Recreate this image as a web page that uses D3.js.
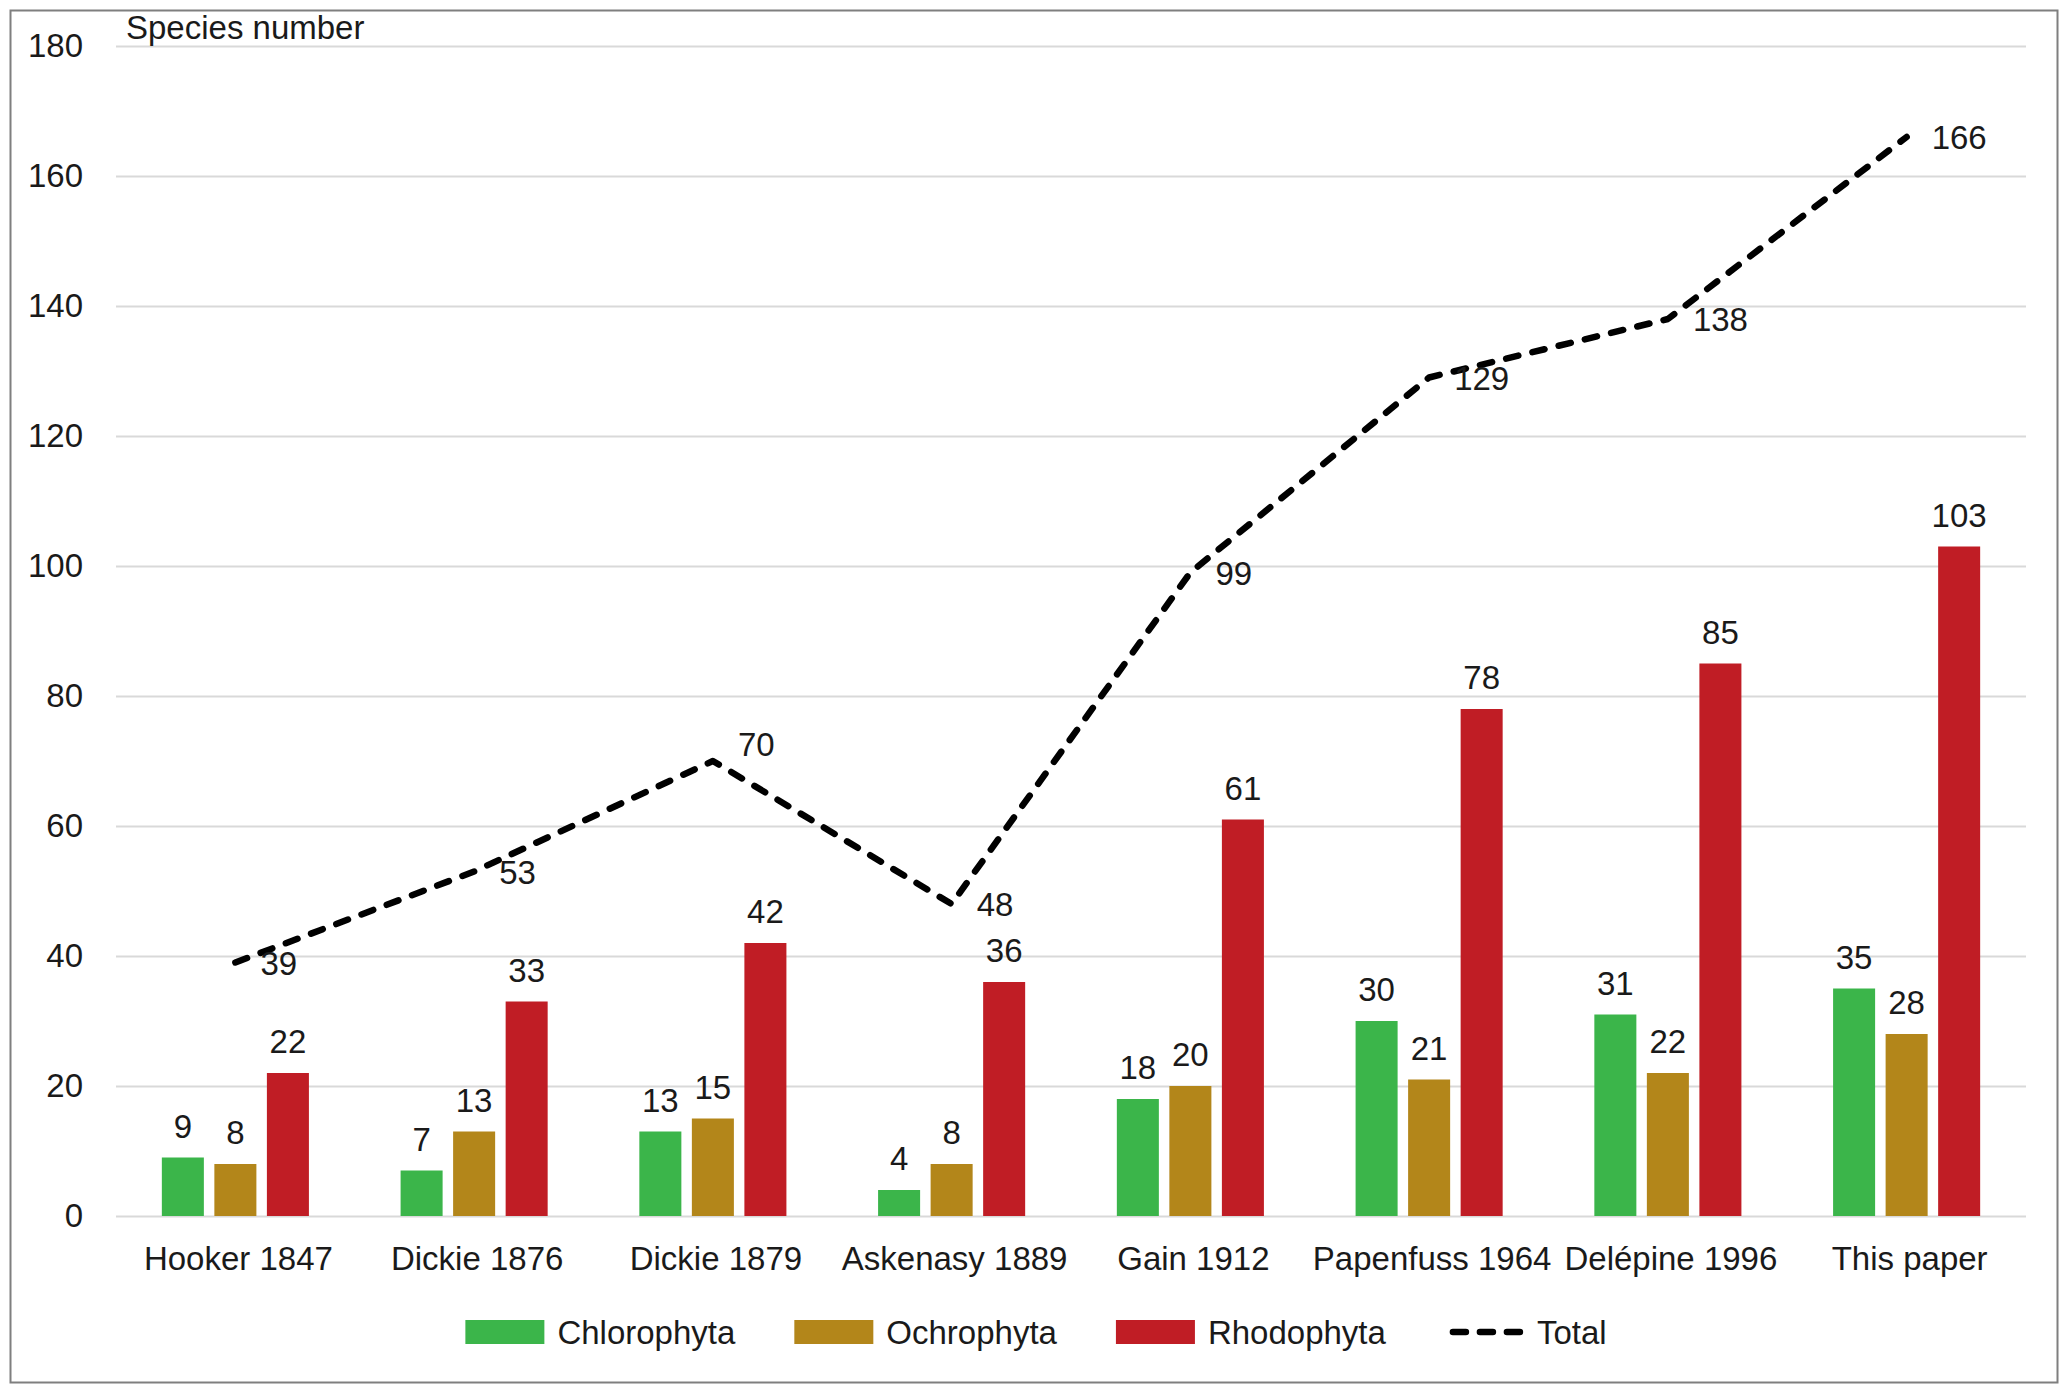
<!DOCTYPE html>
<html>
<head>
<meta charset="utf-8">
<script src="https://cdn.jsdelivr.net/npm/d3@7"></script>
<style>
  html, body { margin: 0; padding: 0; background: #fff; }
  svg { display: block; }
  text { font-family: "Liberation Sans", Arial, Helvetica, sans-serif; fill: #1a1a1a; }
</style>
</head>
<body>
<svg id="chart" width="2072" height="1393"></svg>
<script>
// ---- data ----
const categories = ["Hooker 1847", "Dickie 1876", "Dickie 1879", "Askenasy 1889", "Gain 1912", "Papenfuss 1964", "Delépine 1996", "This paper"];
const seriesNames = ["Chlorophyta", "Ochrophyta", "Rhodophyta"];
const chlorophyta = [9, 7, 13, 4, 18, 30, 31, 35];
const ochrophyta = [8, 13, 15, 8, 20, 21, 22, 28];
const rhodophyta = [22, 33, 42, 36, 61, 78, 85, 103];
const total = [39, 53, 70, 48, 99, 129, 138, 166];
const yTicks = [0, 20, 40, 60, 80, 100, 120, 140, 160, 180];
const yTitle = "Species number";
const totalName = "Total";

// ---- styles ----
const colors = { "Chlorophyta": "#3bb54a", "Ochrophyta": "#b3861a", "Rhodophyta": "#c01d25" };
const fontSize = 33;

const svg = d3.select("#chart");

// frame border
svg.append("rect").attr("x", 10.5).attr("y", 10.5).attr("width", 2047).attr("height", 1372)
  .attr("fill", "none").attr("stroke", "#7f7f7f").attr("stroke-width", 2);

const plot = { left: 116, right: 2026, top: 46, bottom: 1216 };

const y = d3.scaleLinear().domain([0, 180]).range([plot.bottom, plot.top]);
const x0 = d3.scaleBand().domain(categories).range([plot.left, plot.right])
  .paddingInner(0.384).paddingOuter(0.192);
const x1 = d3.scaleBand().domain(seriesNames).range([0, x0.bandwidth()]).paddingInner(0.2);

// gridlines
svg.append("g").selectAll("line").data(yTicks).join("line")
  .attr("x1", plot.left).attr("x2", plot.right)
  .attr("y1", d => Math.round(y(d)) + 0.5).attr("y2", d => Math.round(y(d)) + 0.5)
  .attr("stroke", "#d9d9d9").attr("stroke-width", 2);

// y axis labels
const yAxis = d3.axisLeft(y).tickValues(yTicks).tickSize(0).tickPadding(0);
const gy = svg.append("g").attr("transform", `translate(83,0)`).call(yAxis);
gy.select(".domain").remove();
gy.selectAll("text").style("font-size", fontSize + "px")
  .style("font-family", '"Liberation Sans", Arial, sans-serif').attr("fill", "#1a1a1a");

// y title
svg.append("text").attr("x", 126).attr("y", 39).style("font-size", fontSize + "px").text(yTitle);

// x axis labels
const xAxis = d3.axisBottom(x0).tickSize(0).tickPadding(0);
const gx = svg.append("g").attr("transform", `translate(3,1247)`).call(xAxis);
gx.select(".domain").remove();
gx.selectAll("text").style("font-size", fontSize + "px")
  .style("font-family", '"Liberation Sans", Arial, sans-serif').attr("fill", "#1a1a1a")
  .attr("dy", "0.71em");

// bars
const seriesData = { "Chlorophyta": chlorophyta, "Ochrophyta": ochrophyta, "Rhodophyta": rhodophyta };
const barData = [];
categories.forEach((c, i) => {
  seriesNames.forEach(s => barData.push({ cat: c, series: s, value: seriesData[s][i] }));
});
const gb = svg.append("g");
gb.selectAll("rect").data(barData).join("rect")
  .attr("x", d => x0(d.cat) + x1(d.series))
  .attr("y", d => y(d.value))
  .attr("width", x1.bandwidth())
  .attr("height", d => y(0) - y(d.value))
  .attr("fill", d => colors[d.series]);
gb.selectAll("text").data(barData).join("text")
  .attr("x", d => x0(d.cat) + x1(d.series) + x1.bandwidth() / 2)
  .attr("y", d => y(d.value) - 20)
  .attr("text-anchor", "middle")
  .style("font-size", fontSize + "px")
  .text(d => d.value);

// total line
const cx = c => x0(c) + x0.bandwidth() / 2;
const lineData = categories.map((c, i) => ({ cat: c, value: total[i], i }));
const line = d3.line().x(d => cx(d.cat)).y(d => y(d.value));
svg.append("path").datum(lineData).attr("d", line)
  .attr("fill", "none").attr("stroke", "#000").attr("stroke-width", 6.5)
  .attr("stroke-dasharray", "12.5,14.5").attr("stroke-linecap", "round")
  .attr("stroke-linejoin", "round");

svg.append("g").selectAll("text").data(lineData).join("text")
  .attr("x", d => cx(d.cat) + 25)
  .attr("y", d => {
    const prev = total[d.i - 1], next = total[d.i + 1];
    const peak = prev !== undefined && next !== undefined && d.value > prev && d.value > next;
    return y(d.value) + 12 - (peak ? 17 : 0);
  })
  .style("font-size", fontSize + "px")
  .text(d => d.value);

// legend
const legendItems = seriesNames.map(s => ({ name: s, type: "bar" })).concat([{ name: totalName, type: "line" }]);
const legend = svg.append("g");
const swW = 79, swH = 24, swGap = 13, itemGap = 59, legY = 1332;
const widths = legendItems.map(it => {
  const t = legend.append("text").style("font-size", fontSize + "px").text(it.name);
  const w = t.node().getComputedTextLength();
  t.remove();
  return w;
});
const totalW = d3.sum(widths) + legendItems.length * (swW + swGap) + (legendItems.length - 1) * itemGap;
let lx = 1036 - totalW / 2;
legendItems.forEach((it, k) => {
  if (it.type === "bar") {
    legend.append("rect").attr("x", lx).attr("y", legY - swH / 2).attr("width", swW).attr("height", swH)
      .attr("fill", colors[it.name]);
  } else {
    legend.append("line").attr("x1", lx + 8).attr("x2", lx + swW)
      .attr("y1", legY).attr("y2", legY)
      .attr("stroke", "#000").attr("stroke-width", 6.5)
      .attr("stroke-dasharray", "13,14").attr("stroke-linecap", "round");
  }
  legend.append("text").attr("x", lx + swW + swGap).attr("y", legY + 12)
    .style("font-size", fontSize + "px").text(it.name);
  lx += swW + swGap + widths[k] + itemGap;
});
</script>
</body>
</html>
